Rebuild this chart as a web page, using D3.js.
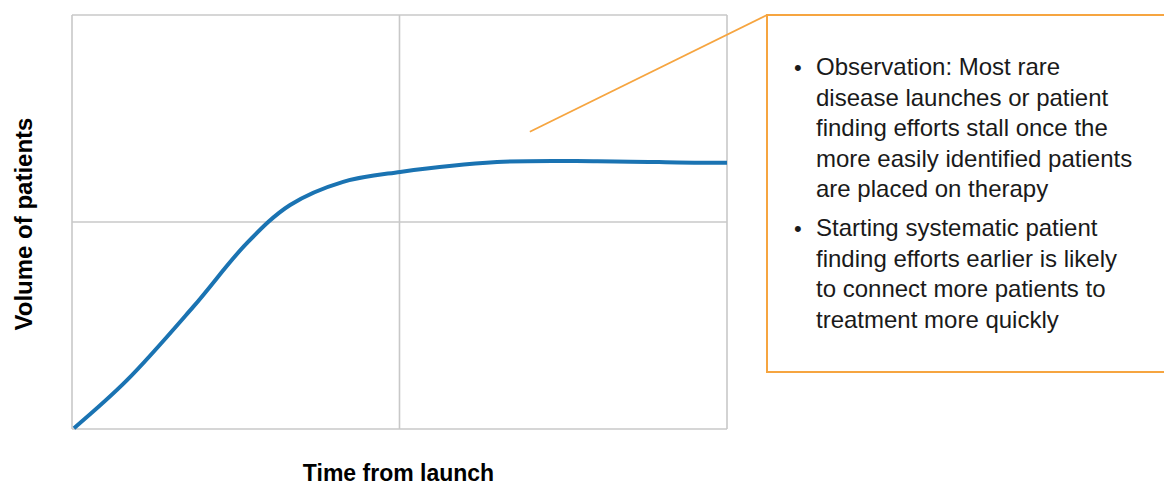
<!DOCTYPE html>
<html><head><meta charset="utf-8">
<script src="https://cdn.jsdelivr.net/npm/d3@7"></script>
<style>body{margin:0;background:#fff;}svg{display:block;font-family:"Liberation Sans",Arial,sans-serif;}</style>
</head><body>
<svg id="c" width="1164" height="486"></svg>
<script>
// Data (normalised: time 0-10, volume 0-100)
const timeValues   = [0.03, 0.84, 1.85, 2.67, 3.33, 4.14, 5.01, 6.49, 8.02, 9.54, 10];
const volumeValues = [0.2, 11.8, 29.5, 44.9, 54.1, 59.7, 62.1, 64.5, 64.7, 64.3, 64.3];
const xGridTicks = [0, 5, 10];
const yGridTicks = [0, 50, 100];
const xTitle = "Time from launch";
const yTitle = "Volume of patients";
const bullets = [
  ["Observation: Most rare", "disease launches or patient", "finding efforts stall once the", "more easily identified patients", "are placed on therapy"],
  ["Starting systematic patient", "finding efforts earlier is likely", "to connect more patients to", "treatment more quickly"]
];
const calloutAnchor = [6.99, 71.8]; // point in data space where callout line starts

const svg = d3.select("#c");
const x = d3.scaleLinear().domain([0, 10]).range([72, 727]);
const y = d3.scaleLinear().domain([0, 100]).range([429, 15]);

const grid = "#c8c8c8";
svg.append("g").selectAll("line").data(xGridTicks).join("line")
  .attr("x1", d => x(d)).attr("x2", d => x(d)).attr("y1", y(0)).attr("y2", y(100))
  .attr("stroke", grid).attr("stroke-width", 1.6);
svg.append("g").selectAll("line").data(yGridTicks).join("line")
  .attr("x1", x(0)).attr("x2", x(10)).attr("y1", d => y(d)).attr("y2", d => y(d))
  .attr("stroke", grid).attr("stroke-width", 1.6);

// curve
const pts = timeValues.map((t, i) => [t, volumeValues[i]]);
const line = d3.line().x(d => x(d[0])).y(d => y(d[1])).curve(d3.curveCatmullRom.alpha(0.5));
svg.append("path").attr("d", line(pts)).attr("fill", "none")
  .attr("stroke", "#1a73b2").attr("stroke-width", 4).attr("stroke-linecap", "butt");

// callout
const orange = "#f6a540";
const boxL = 767, boxT = 15, boxB = 372;
svg.append("line").attr("x1", x(calloutAnchor[0])).attr("y1", y(calloutAnchor[1]))
  .attr("x2", boxL).attr("y2", boxT).attr("stroke", orange).attr("stroke-width", 1.8);
svg.append("path").attr("d", `M1166,${boxT}H${boxL}V${boxB}H1166`)
  .attr("fill", "none").attr("stroke", orange).attr("stroke-width", 2);

const tg = svg.append("g").attr("font-size", 24).attr("fill", "#1a1a1a");
let baseY = 75;
const lh = 30.5;
bullets.forEach((para) => {
  tg.append("text").attr("x", 794).attr("y", baseY).attr("font-size", 22).text("•");
  para.forEach((ln, li) => {
    tg.append("text").attr("x", 816).attr("y", baseY + li * lh).text(ln);
  });
  baseY += para.length * lh + 8.5;
});

// axis titles
svg.append("text").attr("x", 398.5).attr("y", 481).attr("text-anchor", "middle")
  .attr("font-weight", "bold").attr("font-size", 23).attr("fill", "#000").text(xTitle);
svg.append("text").attr("transform", "translate(32,224) rotate(-90)").attr("text-anchor", "middle")
  .attr("font-weight", "bold").attr("font-size", 24).attr("fill", "#000").text(yTitle);
</script>
</body></html>
